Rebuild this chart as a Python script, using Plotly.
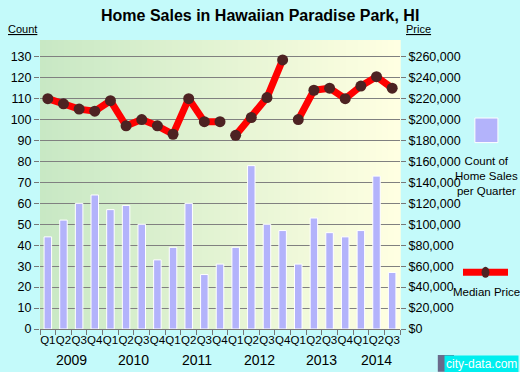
import plotly.graph_objects as go

quarters = ["Q1", "Q2", "Q3", "Q4"] * 5 + ["Q1", "Q2", "Q3"]
years = ["2009", "2010", "2011", "2012", "2013", "2014"]
sales_count = [44, 52, 60, 64, 57, 59, 50, 33, 39, 60, 26, 31,
               39, 78, 50, 47, 31, 53, 46, 44, 47, 73, 27]
median_price = [220000, 215000, 210000, 208000, 218000, 194000, 200000, 194000,
                186000, 220000, 198000, 198000,
                185000, 202000, 221000, 257000,
                200000, 228000, 230000, 220000, 232000, 241000, 230000]
line_breaks = [12, 16]  # line restarts at these quarter indices

x = list(range(len(quarters)))
FONT = "Liberation Sans, Arial, sans-serif"

fig = go.Figure()
fig.add_trace(go.Bar(x=x, y=sales_count, width=0.48,
                     marker=dict(color="#b3b3fb", line=dict(color="white", width=1)),
                     yaxis="y", showlegend=False, hoverinfo="skip"))

bounds = [0] + line_breaks + [len(x)]
for a, b in zip(bounds[:-1], bounds[1:]):
    fig.add_trace(go.Scatter(x=x[a:b], y=median_price[a:b], yaxis="y2", mode="lines+markers",
                             line=dict(color="#ff0000", width=7),
                             marker=dict(color="#4d2222", size=11),
                             showlegend=False, hoverinfo="skip"))

shapes = []
n = 60
c0 = (200, 232, 196)
c1 = (255, 255, 226)
for i in range(n):
    t = i / (n - 1)
    col = tuple(round(c0[k] + (c1[k] - c0[k]) * t) for k in range(3))
    shapes.append(dict(type="rect", xref="paper", yref="paper", x0=i / n, x1=(i + 1) / n + 0.002,
                       y0=0, y1=1, fillcolor="rgb(%d,%d,%d)" % col, line=dict(width=0), layer="below"))

# legend graphics
shapes.append(dict(type="rect", xref="paper", yref="paper", x0=1.208, x1=1.272, y0=0.645, y1=0.73,
                   fillcolor="#b3b3fb", line=dict(color="white", width=1)))
shapes.append(dict(type="line", xref="paper", yref="paper", x0=1.175, x1=1.3, y0=0.196, y1=0.196,
                   line=dict(color="#ff0000", width=7)))
shapes.append(dict(type="circle", xref="paper", yref="paper", x0=1.2265, x1=1.2485, y0=0.177, y1=0.215,
                   fillcolor="#4d2222", line=dict(width=0)))
# watermark icon
shapes.append(dict(type="rect", xref="paper", yref="paper", x0=1.105, x1=1.15, y0=-0.148, y1=-0.09,
                   fillcolor="#6a6a8a", line=dict(width=0)))

annotations = [
    dict(text="<b>Home Sales in Hawaiian Paradise Park, HI</b>", xref="paper", yref="paper",
         x=0.611, y=1.085, xanchor="center", yanchor="middle", showarrow=False,
         font=dict(size=16, color="black", family=FONT)),
    dict(text="<u>Count</u>", xref="paper", yref="paper", x=-0.049, y=1.01, xanchor="center",
         yanchor="bottom", showarrow=False, font=dict(size=11, color="black", family=FONT)),
    dict(text="<u>Price</u>", xref="paper", yref="paper", x=1.05, y=1.01, xanchor="center",
         yanchor="bottom", showarrow=False, font=dict(size=11, color="black", family=FONT)),
    dict(text="Count of<br>Home Sales<br>per Quarter", xref="paper", yref="paper", x=1.24, y=0.61,
         xanchor="center", yanchor="top", showarrow=False, align="center",
         font=dict(size=11.5, color="black", family=FONT)),
    dict(text="Median Price", xref="paper", yref="paper", x=1.24, y=0.155,
         xanchor="center", yanchor="top", showarrow=False,
         font=dict(size=11.5, color="black", family=FONT)),
    dict(text="city-data.com", xref="paper", yref="paper", x=1.33, y=-0.09,
         xanchor="right", yanchor="top", showarrow=False, bgcolor="#00eeee",
         font=dict(size=12, color="white", family=FONT)),
]
# year labels centered under their quarters
for yi, yr in enumerate(years):
    idx = [i for i in x if i // 4 == yi]
    annotations.append(dict(text=yr, x=sum(idx) / len(idx), xref="x", y=-0.073, yref="paper",
                            xanchor="center", yanchor="top", showarrow=False,
                            font=dict(size=14, color="black", family=FONT)))

fig.update_layout(
    width=520, height=372,
    margin=dict(l=40, r=120, t=40, b=43),
    paper_bgcolor="#c4fafa", plot_bgcolor="rgba(0,0,0,0)",
    shapes=shapes, annotations=annotations,
    xaxis=dict(range=[-0.5, len(x) - 0.5], tickvals=x, ticktext=quarters, ticks="", tickangle=0,
               tickfont=dict(size=11.5, color="black", family=FONT), showgrid=False, zeroline=False,
               showline=True, linecolor="#777777", linewidth=1, automargin=False,
               minor=dict(tickvals=[i - 0.5 for i in range(len(x) + 1)], ticks="outside",
                          ticklen=5, tickcolor="#777777", showgrid=False)),
    yaxis=dict(range=[0, 138], tickvals=list(range(0, 131, 10)), ticks="outside", ticklen=5,
               tickcolor="#777777", showgrid=True, gridcolor="#808080", gridwidth=1.3,
               zeroline=False, tickfont=dict(size=12.5, color="black", family=FONT),
               showline=False, automargin=False),
    yaxis2=dict(range=[0, 276000], overlaying="y", side="right", tickvals=list(range(0, 260001, 20000)),
                tickformat="$,d", ticks="outside", ticklen=5, tickcolor="#777777", showgrid=False,
                zeroline=False, tickfont=dict(size=12.5, color="black", family=FONT), automargin=False),
)

fig.write_html("out.html", config={"displayModeBar": False},
               post_script="document.body.style.margin='0';")
